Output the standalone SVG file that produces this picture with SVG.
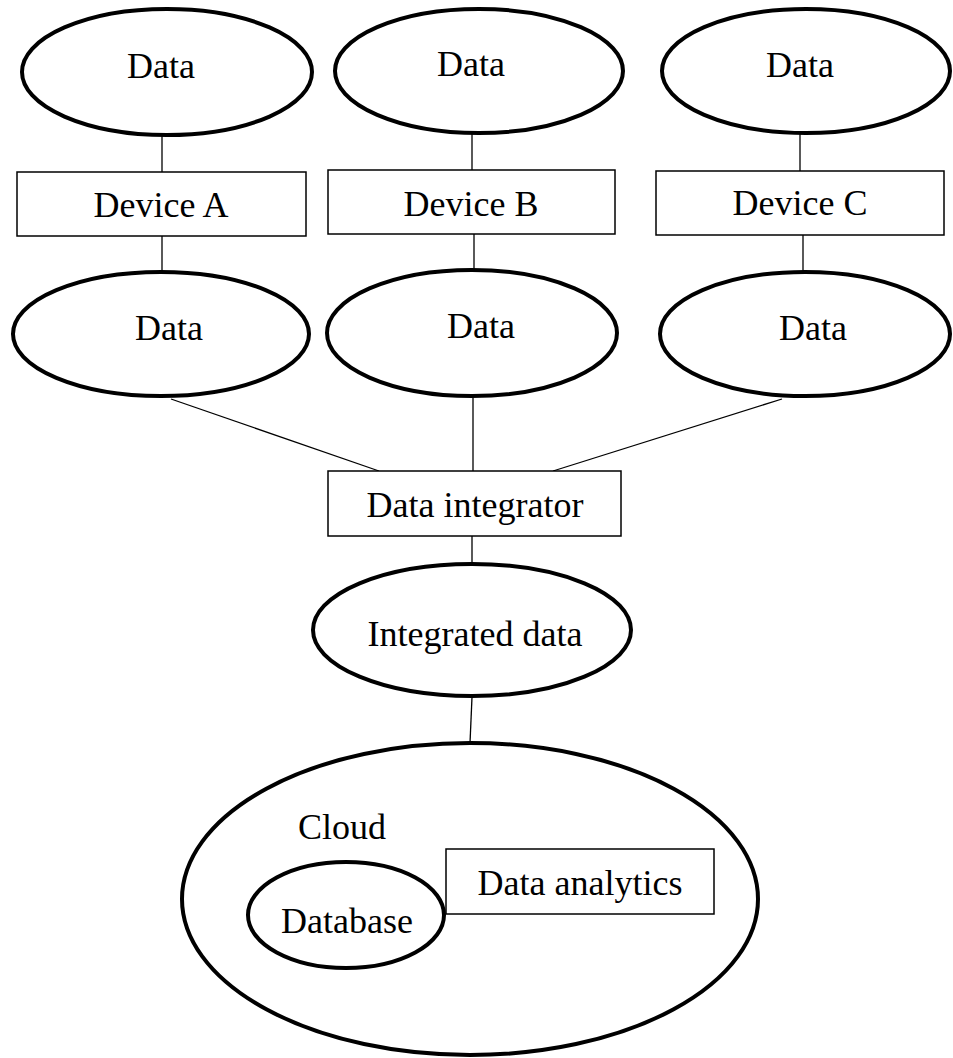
<svg xmlns="http://www.w3.org/2000/svg" width="953" height="1058" viewBox="0 0 953 1058">
<style>
.e{fill:#fff;stroke:#000;stroke-width:4}
.r{fill:#fff;stroke:#000;stroke-width:1.5}
.c{stroke:#000;stroke-width:1.3;fill:none}
text{font-family:"Liberation Serif","Times New Roman",serif;font-size:36px;fill:#000;text-anchor:middle}
</style>
<rect width="953" height="1058" fill="#fff"/>
<g id="connectors">
<line class="c" x1="162" y1="135" x2="162" y2="172"/>
<line class="c" x1="472" y1="133" x2="472" y2="170"/>
<line class="c" x1="800" y1="133" x2="800" y2="171"/>
<line class="c" x1="162" y1="236" x2="162" y2="272"/>
<line class="c" x1="474" y1="234" x2="474" y2="270"/>
<line class="c" x1="803" y1="235" x2="803" y2="272"/>
<line class="c" x1="171" y1="399" x2="379" y2="471"/>
<line class="c" x1="473" y1="396" x2="473" y2="471"/>
<line class="c" x1="782" y1="399" x2="553" y2="471"/>
<line class="c" x1="472" y1="536" x2="472" y2="564"/>
<line class="c" x1="472" y1="697" x2="470" y2="743"/>
</g>
<g id="data-top-a"><ellipse class="e" cx="167" cy="72" rx="145" ry="63"/><text x="161" y="78">Data</text></g>
<g id="data-top-b"><ellipse class="e" cx="479" cy="71" rx="144" ry="62"/><text x="471" y="76">Data</text></g>
<g id="data-top-c"><ellipse class="e" cx="806" cy="71" rx="144" ry="62"/><text x="800" y="77">Data</text></g>
<g id="device-a"><rect class="r" x="17" y="172" width="289" height="64"/><text x="161" y="217">Device A</text></g>
<g id="device-b"><rect class="r" x="328" y="170" width="287" height="64"/><text x="471" y="216">Device B</text></g>
<g id="device-c"><rect class="r" x="656" y="171" width="288" height="64"/><text x="800" y="215">Device C</text></g>
<g id="data-bot-a"><ellipse class="e" cx="161" cy="334" rx="148" ry="62"/><text x="169" y="340">Data</text></g>
<g id="data-bot-b"><ellipse class="e" cx="472" cy="333" rx="145" ry="63"/><text x="481" y="338">Data</text></g>
<g id="data-bot-c"><ellipse class="e" cx="805" cy="334" rx="145" ry="62"/><text x="813" y="340">Data</text></g>
<g id="integrator"><rect class="r" x="328" y="471" width="293" height="65"/><text x="475" y="517">Data integrator</text></g>
<g id="integrated-data"><ellipse class="e" cx="472" cy="630" rx="159" ry="66"/><text x="475" y="646">Integrated data</text></g>
<g id="cloud"><ellipse class="e" cx="470" cy="899" rx="288" ry="156"/><text x="298" y="839" style="text-anchor:start">Cloud</text></g>
<g id="database"><ellipse class="e" cx="346" cy="915" rx="98" ry="53"/><text x="347" y="933">Database</text></g>
<g id="analytics"><rect class="r" x="446" y="849" width="268" height="65"/><text x="580" y="895">Data analytics</text></g>
</svg>
